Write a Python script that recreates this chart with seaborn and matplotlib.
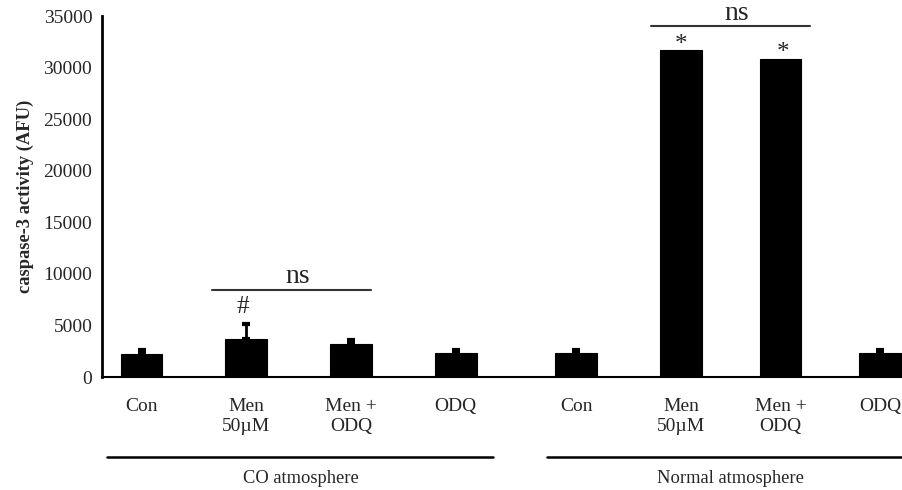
"""Caspase-3 activity under CO vs normal atmosphere, bar chart with error bars."""

import numpy as np
import pandas as pd
import matplotlib
matplotlib.use("Agg")
import matplotlib.pyplot as plt
import seaborn as sns

# ---------------------------------------------------------------------------
# Data
# ---------------------------------------------------------------------------
groups = ["CO atmosphere", "Normal atmosphere"]
treatments = ["Con", "Men\n50\u00b5M", "Men +\nODQ", "ODQ"]
co_values = [2250, 3730, 3220, 2330]
co_errors = [360, 1400, 320, 300]
normal_values = [2300, 31700, 30870, 2300]
normal_errors = [330, 0, 0, 330]

# layout: bar centres on a numeric axis (gap between the two groups)
x_pos = [0, 1, 2, 3, 4.15, 5.15, 6.1, 7.05]
boundary_ticks = [0.455, 1.43, 2.47, 4.53, 5.63]

df = pd.DataFrame({
    "pos": x_pos,
    "label": treatments * 2,
    "value": co_values + normal_values,
    "err": co_errors + normal_errors,
})

# ---------------------------------------------------------------------------
# Aesthetics
# ---------------------------------------------------------------------------
sns.set_style("white")
plt.rcParams["font.family"] = ["Liberation Serif", "DejaVu Serif"]
plt.rcParams["font.size"] = 14

fig = plt.figure(figsize=(9.02, 4.9), dpi=100)
ax = fig.add_axes([0.1131, 0.2306, 0.8869, 0.7367])

min_gap = np.diff(sorted(x_pos)).min()
sns.barplot(data=df, x="pos", y="value", native_scale=True, color="black",
            saturation=1, width=0.4 / min_gap, errorbar=None,
            edgecolor="black", linewidth=0.8, ax=ax)

err_df = df[df["err"] > 0]
ax.errorbar(err_df["pos"], err_df["value"],
            yerr=[np.zeros(len(err_df)), err_df["err"]],
            fmt="none", ecolor="black", elinewidth=2, capsize=3, capthick=3)

ax.set_xlim(-0.377, 7.26)
ax.set_ylim(0, 35000)
ax.set_yticks(np.arange(0, 35001, 5000))
ax.set_ylabel("caspase-3 activity (AFU)", fontweight="bold", fontsize=13.3,
              labelpad=7)
ax.set_xlabel("")

ax.set_xticks(x_pos)
ax.set_xticklabels(df["label"], fontsize=14, linespacing=1.25)
ax.set_xticks(boundary_ticks, minor=True)
ax.tick_params(axis="x", which="major", length=0, pad=15)
ax.tick_params(axis="x", which="minor", length=3, width=1.5, direction="out",
               color="black")
ax.tick_params(axis="y", length=4, width=1.5, direction="out", pad=3,
               labelsize=14, color="black")

for side in ["top", "right"]:
    ax.spines[side].set_visible(False)
ax.spines["left"].set_linewidth(2)
ax.spines["bottom"].set_linewidth(1.5)
ax.spines["left"].set_color("black")
ax.spines["bottom"].set_color("black")

# group lines and labels under the axis
trans = ax.get_xaxis_transform()
ax.plot([-0.33, 3.36], [-0.222, -0.222], color="black", lw=1.8,
        transform=trans, clip_on=False)
ax.plot([3.87, 7.3], [-0.222, -0.222], color="black", lw=1.8,
        transform=trans, clip_on=False)
ax.text(1.52, -0.282, groups[0], transform=trans, ha="center", va="center",
        fontsize=13.3)
ax.text(5.62, -0.282, groups[1], transform=trans, ha="center", va="center",
        fontsize=13.3)

# significance annotations
ax.plot([0.67, 2.19], [8460, 8460], color="#333333", lw=1.5)
ax.text(1.49, 9750, "ns", ha="center", va="center", fontsize=20)
ax.plot([4.86, 6.38], [34030, 34030], color="#333333", lw=1.5, clip_on=False)
ax.text(5.68, 35250, "ns", ha="center", va="center", fontsize=20,
        clip_on=False)
ax.text(x_pos[1] - 0.03, 6800, "#", ha="center", va="center", fontsize=18)
ax.text(x_pos[5], 32200, "*", ha="center", va="center", fontsize=18)
ax.text(x_pos[6] + 0.02, 31400, "*", ha="center", va="center", fontsize=18)

fig.savefig("out.png", dpi=100)
